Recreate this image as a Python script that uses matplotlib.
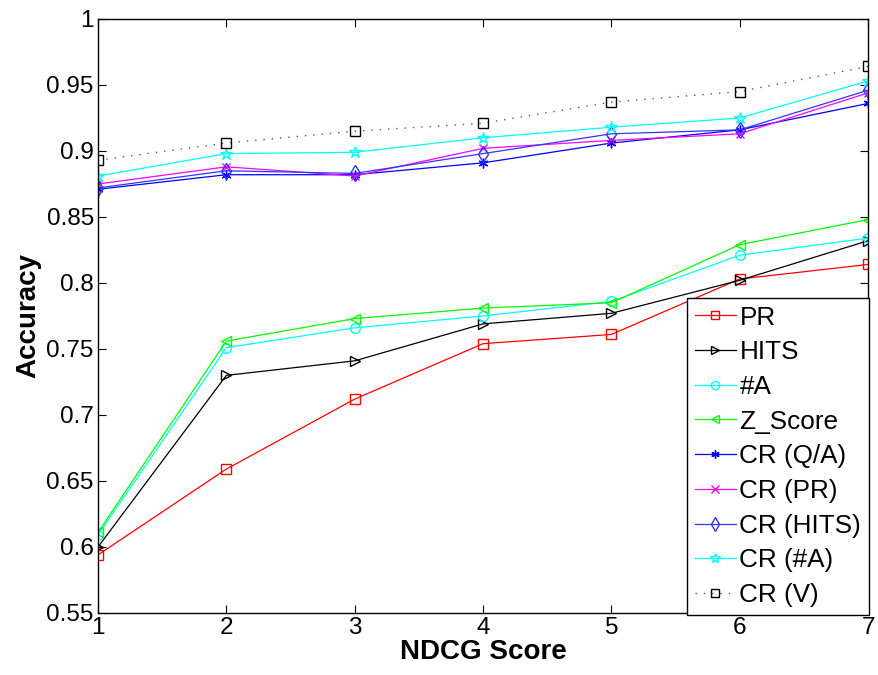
import matplotlib
matplotlib.use('Agg')
import matplotlib.pyplot as plt

plt.rcParams['font.family'] = ['Liberation Sans', 'DejaVu Sans']

# NDCG score positions
ndcg = [1, 2, 3, 4, 5, 6, 7]

# accuracy per method
pr = [0.594, 0.659, 0.712, 0.754, 0.761, 0.803, 0.814]
hits = [0.600, 0.730, 0.741, 0.769, 0.777, 0.802, 0.832]
num_a = [0.609, 0.751, 0.766, 0.775, 0.786, 0.821, 0.834]
z_score = [0.611, 0.756, 0.773, 0.781, 0.785, 0.829, 0.848]
cr_qa = [0.871, 0.882, 0.882, 0.891, 0.906, 0.916, 0.936]
cr_pr = [0.875, 0.888, 0.881, 0.902, 0.908, 0.913, 0.944]
cr_hits = [0.872, 0.885, 0.883, 0.898, 0.913, 0.916, 0.946]
cr_num_a = [0.881, 0.898, 0.899, 0.910, 0.918, 0.925, 0.953]
cr_v = [0.893, 0.906, 0.915, 0.921, 0.937, 0.945, 0.964]

y_ticks = [0.55, 0.6, 0.65, 0.7, 0.75, 0.8, 0.85, 0.9, 0.95, 1]
y_tick_labels = ['0.55', '0.6', '0.65', '0.7', '0.75', '0.8', '0.85', '0.9', '0.95', '1']

fig = plt.figure(figsize=(8.79, 6.75), dpi=100)
ax = fig.add_axes([0.1115, 0.0919, 0.876, 0.880])

cyan = (0, 1, 1)
magenta = (1, 0, 1)
green = (0, 1, 0)
blue = (0, 0, 1)

ms = 7
lw = 0.9
ax.plot(ndcg, pr, color='r', marker='s', mfc='none', ms=ms, lw=lw, label='PR')
ax.plot(ndcg, hits, color='k', marker='>', mfc='none', ms=ms, lw=lw, label='HITS')
ax.plot(ndcg, num_a, color=cyan, marker='o', mfc='none', ms=ms, lw=lw, label='#A')
ax.plot(ndcg, z_score, color=green, marker='<', mfc='none', ms=ms, lw=lw, label='Z_Score')
ax.plot(ndcg, cr_qa, color=blue, marker=(6, 2, 0), ms=ms, lw=lw, label='CR (Q/A)')
ax.plot(ndcg, cr_pr, color=magenta, marker='x', ms=ms - 1, lw=lw, label='CR (PR)')
ax.plot(ndcg, cr_hits, color=(0.2, 0.2, 1), marker='d', mfc='none', ms=ms + 1, lw=lw, label='CR (HITS)')
ax.plot(ndcg, cr_num_a, color=cyan, marker='*', mfc='none', ms=ms + 2, lw=lw, label='CR (#A)')
ax.plot(ndcg, cr_v, color='0.35', ls=(0, (1, 5)), lw=1.0, marker='s', mec='k', mfc='none', ms=ms, label='CR (V)')

ax.set_xlim(1, 7)
ax.set_ylim(0.55, 1)
ax.set_xticks(ndcg)
ax.set_yticks(y_ticks)
ax.set_yticklabels(y_tick_labels)
ax.tick_params(direction='in', length=6, width=0.8, labelsize=17.5, top=True, right=True, pad=3)
for sp in ax.spines.values():
    sp.set_linewidth(1.0)

ax.set_xlabel('NDCG Score', fontsize=20, fontweight='bold', labelpad=0)
ax.set_ylabel('Accuracy', fontsize=20, fontweight='bold', labelpad=4)

leg = ax.legend(loc='lower right', bbox_to_anchor=(1.0013, -0.0034), borderaxespad=0,
                fontsize=18.8, fancybox=False, edgecolor='k', framealpha=1,
                handlelength=1.55, labelspacing=0.41, handletextpad=0.15, borderpad=0.3,
                markerscale=0.85)
leg.get_frame().set_linewidth(1.0)

plt.savefig('out.png', dpi=100)
